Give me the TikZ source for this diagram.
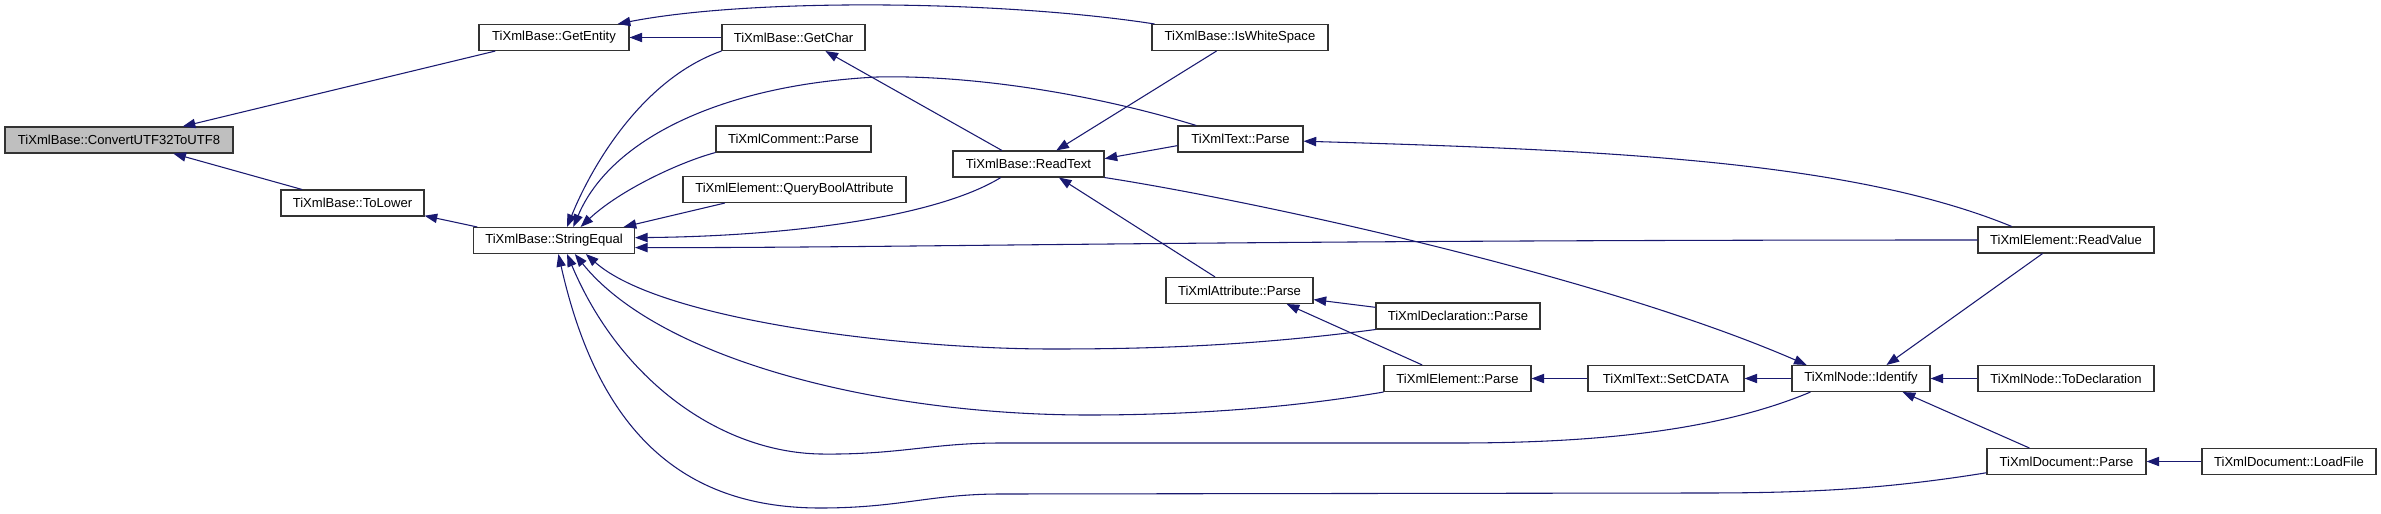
\documentclass[tikz,border=0pt]{standalone}
\usepackage{fontspec}
\setmainfont{Liberation Sans}
\usetikzlibrary{arrows.meta}
\definecolor{edgeblue}{RGB}{25,25,112}
\newdimen\px \px=0.75pt
\tikzset{
  fn/.style={draw=black!80, fill=white, line width=0.8pt, minimum height=26\px, inner sep=0pt, font=\fontsize{9.8}{11}\selectfont},
  fnmain/.style={fn, fill=black!25},
  call/.style={edgeblue, line width=0.8pt, -{Triangle[length=9.5pt, width=7pt]}},
}
\begin{document}
\begin{tikzpicture}[x=0.75pt, y=-0.75pt]
        \useasboundingbox (0,0) rectangle (2381,514);

        % Function boxes
        \node[fnmain, minimum width=228\px] (convert) at (119,140) {TiXmlBase::ConvertUTF32ToUTF8};
        \node[fn, minimum width=150\px] (getentity) at (554,37.5) {TiXmlBase::GetEntity};
        \node[fn, minimum width=143\px] (getchar) at (793.5,37.5) {TiXmlBase::GetChar};
        \node[fn, minimum width=176\px] (iswhite) at (1240,37.5) {TiXmlBase::IsWhiteSpace};
        \node[fn, minimum width=143\px] (tolower) at (352.5,203) {TiXmlBase::ToLower};
        \node[fn, minimum width=161\px] (strequal) at (554,240.5) {TiXmlBase::StringEqual};
        \node[fn, minimum width=155\px] (cmtparse) at (793.5,139) {TiXmlComment::Parse};
        \node[fn, minimum width=223\px] (qbool) at (794.5,189.5) {TiXmlElement::QueryBoolAttribute};
        \node[fn, minimum width=151\px] (readtext) at (1028.5,164) {TiXmlBase::ReadText};
        \node[fn, minimum width=125\px] (txtparse) at (1240.5,139) {TiXmlText::Parse};
        \node[fn, minimum width=147\px] (attparse) at (1239.5,290.5) {TiXmlAttribute::Parse};
        \node[fn, minimum width=164\px] (declparse) at (1458,316) {TiXmlDeclaration::Parse};
        \node[fn, minimum width=147\px] (elemparse) at (1457.5,378.5) {TiXmlElement::Parse};
        \node[fn, minimum width=156\px] (setcdata) at (1666,378.5) {TiXmlText::SetCDATA};
        \node[fn, minimum width=138\px] (identify) at (1861,378.5) {TiXmlNode::Identify};
        \node[fn, minimum width=176\px] (todecl) at (2066,378.5) {TiXmlNode::ToDeclaration};
        \node[fn, minimum width=176\px] (readvalue) at (2066,240) {TiXmlElement::ReadValue};
        \node[fn, minimum width=159\px] (docparse) at (2066.5,461.5) {TiXmlDocument::Parse};
        \node[fn, minimum width=174\px] (loadfile) at (2289,461.5) {TiXmlDocument::LoadFile};

        % Into ConvertUTF32ToUTF8 and GetEntity
        \draw[call] (getentity.-167) -- (convert.12);
        \draw[call] (tolower.165) -- (convert.-14);
        \draw[call] (strequal.170) -- (tolower.-10);
        \draw[call] (getchar.west) -- (getentity.east);
        \draw[call] (iswhite.171) .. controls (1000,0) and (750,-2) .. (getentity.12);

        % Into StringEqual, from above
        \draw[call] (getchar.south west) .. controls (640,80) and (590,170) .. (strequal.46);
        \draw[call] (txtparse.163) .. controls (1080,90) and (960,75) .. (877,77) .. controls (720,85) and (610,140) .. (strequal.35);
        \draw[call] (cmtparse.south west) .. controls (680,162) and (620,190) .. (strequal.27);
        \draw[call] (qbool.-169) -- (strequal.11);
        \draw[call] (readtext.-154) .. controls (940,215) and (800,236) .. (strequal.2);
        \draw[call] (readvalue.west) .. controls (1200,240) and (900,248) .. (strequal.-5);

        % Into StringEqual, from below
        \draw[call] (declparse.south west) .. controls (1250,346) and (1150,349) .. (1052,349) .. controls (900,349) and (660,320) .. (strequal.-23);
        \draw[call] (elemparse.south west) .. controls (1290,408) and (1190,415) .. (1088,415) .. controls (880,415) and (660,360) .. (strequal.-33);
        \draw[call] (identify.-165) .. controls (1720,430) and (1600,443) .. (1456,443) -- (1001,443) .. controls (930,443) and (900,455) .. (820,454) .. controls (720,452) and (620,380) .. (strequal.-46);
        \draw[call] (docparse.-172) .. controls (1880,490) and (1800,493) .. (1700,493) -- (1001,494) .. controls (930,494) and (900,508) .. (820,508) .. controls (690,508) and (600,440) .. (strequal.-72);

        % ReadText and TextParse
        \draw[call] (readtext.153) -- (getchar.-23);
        \draw[call] (iswhite.-150) -- (readtext.26);
        \draw[call] (txtparse.-174) -- (readtext.4);
        \draw[call] (attparse.151) -- (readtext.-24);
        \draw[call] (readvalue.166) .. controls (1850,160) and (1600,150) .. (txtparse.-2);

        % Identify and the parse chain
        \draw[call] (readtext.south east) .. controls (1250,200) and (1600,275) .. (identify.166);
        \draw[call] (readvalue.-150) -- (identify.28);
        \draw[call] (docparse.160) -- (identify.-18);
        \draw[call] (todecl.west) -- (identify.east);
        \draw[call] (identify.west) -- (setcdata.east);
        \draw[call] (setcdata.west) -- (elemparse.east);
        \draw[call] (declparse.174) -- (attparse.-7);
        \draw[call] (elemparse.159) -- (attparse.-16);
        \draw[call] (loadfile.west) -- (docparse.east);
    \end{tikzpicture}
\end{document}
